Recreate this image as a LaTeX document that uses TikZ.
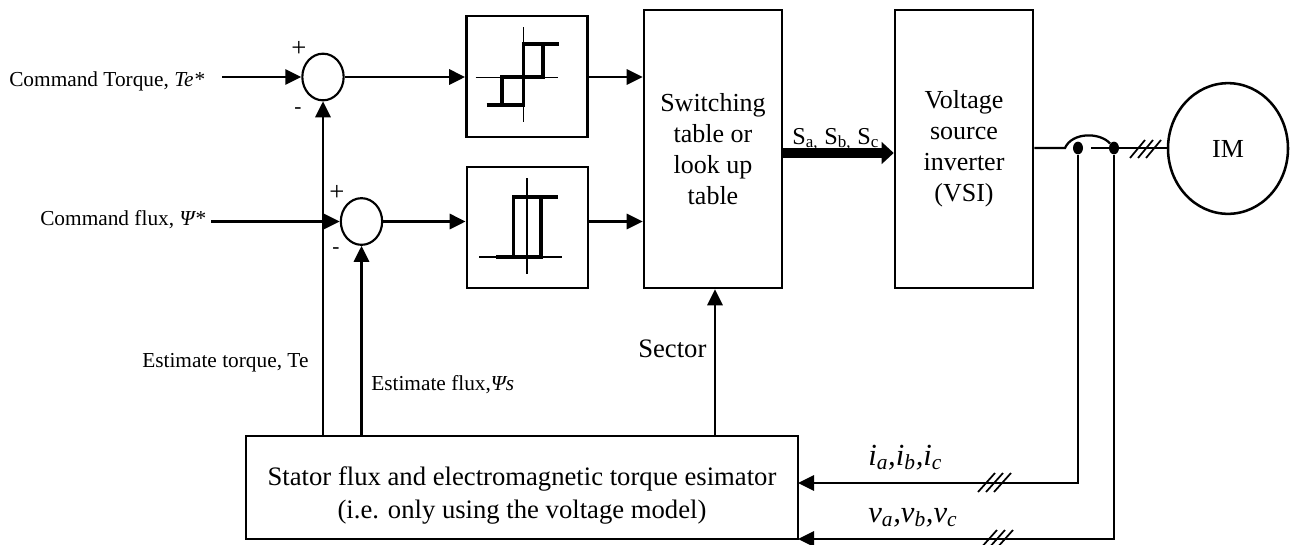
\documentclass[tikz,border=0pt]{standalone}
\usepackage{fontspec}
\setmainfont{Liberation Serif}
\usetikzlibrary{arrows.meta,positioning,shapes.geometric}
\newcommand{\bigfont}{\fontsize{19.5}{23.2}\selectfont}
\newcommand{\estfont}{\fontsize{20}{24.7}\selectfont}
\newcommand{\gatefont}{\fontsize{18.2}{22}\selectfont}
\newcommand{\smallfont}{\fontsize{16}{19}\selectfont}
\newcommand{\phasefont}{\fontsize{23}{27}\selectfont}
\tikzset{
  block/.style={
    rectangle, draw=black, line width=1.9pt, align=center,
    inner sep=0pt, font=\bigfont
  },
  sum node/.style={
    ellipse, draw=black, line width=1.6pt, inner sep=0pt,
    minimum width=31pt, minimum height=35pt
  },
  junction/.style={
    ellipse, fill=black, inner sep=0pt,
    minimum width=7.5pt, minimum height=9.5pt
  },
  label text/.style={inner sep=0pt, anchor=base west, font=\smallfont},
  signal/.style={line width=1.7pt, -{Triangle[length=12pt,width=11.5pt]}},
  wire/.style={line width=1.7pt},
  curve thick/.style={line width=2.4pt},
  curve axis/.style={line width=1pt},
  tick/.style={line width=1.3pt}
}

\begin{document}
\begin{tikzpicture}[x=0.75pt,y=-0.75pt]
    \useasboundingbox (0,0) rectangle (1293,544);
    % blocks
    \node[block, minimum width=91pt, minimum height=91pt] (hyst1) at (527,76.5) {};
    \node[block, minimum width=91pt, minimum height=91pt] (hyst2) at (527.5,227.5) {};
    \node[block, minimum width=103.5pt, minimum height=208.5pt] (table) at (713,149)
      {Switching\\table or\\look up\\table};
    \node[block, minimum width=103.5pt, minimum height=208.5pt] (vsi) at (964,149)
      {Voltage\\source\\inverter\\(VSI)};
    \node[block, ellipse, minimum width=90pt, minimum height=98pt] (im) at (1228,148.5)
      {\raisebox{-3pt}{IM}};
    \node[block, minimum width=414pt, minimum height=77pt, font=\estfont] (est) at (522,487.5)
      {\rule{0pt}{25.5pt}Stator flux and electromagnetic torque esimator\\(i.e. only using the voltage model)};
    \node[sum node] (sum1) at (323,77) {};
    \node[sum node] (sum2) at (361.5,221.5) {};
    \node[junction] (doti) at (1078,148) {};
    \node[junction] (dotv) at (1114,148) {};

    % free ends
    \coordinate (torquein) at (222,77);
    \coordinate (fluxin) at (211,221.5);
    \coordinate (sectorline) at (715,400);
    \coordinate (gateline) at (800,153);
    \coordinate (iin) at (798,483);
    \coordinate (vin) at (798,539);
    \coordinate (hopin) at (1065,148);
    \coordinate (hopout) at (1091,148);

    % labels
    \node[label text] (cmdtorque) at (9,86) {Command Torque, \textit{Te*}};
    \node[label text] (cmdflux) at (40,225) {Command flux, \textit{Ψ*}};
    \node[label text] (esttorque) at (142,367) {Estimate torque, Te};
    \node[label text] (estflux) at (371,390) {Estimate flux,\textit{Ψs}};
    \node[label text, font=\estfont] (sector) at (638,357) {Sector};
    \node[label text, font=\gatefont] (gates) at (792,144)
      {S\textsubscript{a,} S\textsubscript{b,} S\textsubscript{c}};
    \node[label text, font=\phasefont] (currents) at (868,465)
      {\textit{i\textsubscript{a},i\textsubscript{b},i\textsubscript{c}}};
    \node[label text, font=\phasefont] (voltages) at (868,522)
      {\textit{v\textsubscript{a},v\textsubscript{b},v\textsubscript{c}}};
    \node[label text, font=\estfont] (plus1) at (291,56) {+};
    \node[label text] (minus1) at (294,113) {-};
    \node[label text, font=\estfont] (plus2) at (329,200) {+};
    \node[label text] (minus2) at (332,253) {-};

    % connectors
    \draw[signal] (torquein) -- (sum1);
    \draw[signal] (fluxin) -- (sum2);
    \draw[signal] (sum1) -- (sum1 -| hyst1.west);
    \draw[signal] (sum2) -- (sum2 -| hyst2.west);
    \draw[signal] (sum1 -| hyst1.east) -- (sum1 -| table.west);
    \draw[signal] (sum2 -| hyst2.east) -- (sum2 -| table.west);
    \draw[signal] (est.north -| sum1) -- (sum1);
    \draw[signal] (est.north -| sum2) -- (sum2);
    \draw[signal] (est.north -| sectorline) -- (table.south -| sectorline);
    \draw[line width=7.5pt, -{Triangle[length=9pt,width=16pt]}]
      (table.east |- gateline) -- (vsi.west |- gateline);
    \draw[wire] (vsi.east |- hopin) -- (hopin)
      .. controls (1072,132) and (1100,132) .. (dotv);
    \draw[wire] (hopout) -- (hopout -| im.west);
    \draw[signal] (doti) |- (iin);
    \draw[signal] (dotv) |- (vin);

    % three phase ticks
    \foreach \x in {1130,1138,1146}
      \draw[tick] (\x,158) -- (\x+15,140);
    \foreach \x in {978,986,994}
      \draw[tick] (\x,492) -- (\x+17,473);
    \foreach \x in {980,988,996}
      \draw[tick] (\x,549) -- (\x+17,530);

    % torque comparator
    \draw[curve axis] (475.5,77.5) -- (558,77.5);
    \draw[curve axis] (523.7,27) -- (523.7,122);
    \draw[curve thick] (486.5,105) -- (523.7,105) -- (523.7,44) -- (559,44);
    \draw[curve thick] (523.7,105) -- (502,105) -- (502,77) -- (543,77) -- (543,44);

    % flux comparator
    \draw[curve axis] (479,257) -- (562,257);
    \draw[curve axis] (527,178) -- (527,274);
    \draw[curve thick] (496,257) -- (541,257) -- (541,197);
    \draw[curve thick] (513.5,257) -- (513.5,197) -- (558,197);
  \end{tikzpicture}
\end{document}
